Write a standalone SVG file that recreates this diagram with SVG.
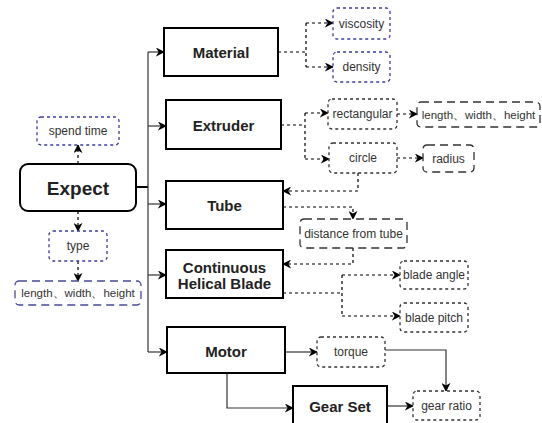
<svg xmlns="http://www.w3.org/2000/svg" width="542" height="423" viewBox="0 0 542 423">
<defs>
<style>
text{font-family:"Liberation Sans",Arial,sans-serif;fill:#222;text-anchor:middle;dominant-baseline:central}
.main{fill:#fff;stroke:#000;stroke-width:2}
.lbl{font-size:15px;font-weight:bold}
.sm{font-size:12px;fill:#333}
.lw{font-size:11.5px}
.dotb{fill:#fff;stroke:#3c3ca0;stroke-width:1.3;stroke-dasharray:3,3}
.dashb{fill:#fff;stroke:#4a4a9a;stroke-width:1.3;stroke-dasharray:8,5}
.dotg{fill:#fff;stroke:#333;stroke-width:1.3;stroke-dasharray:3,3}
.dashg{fill:#fff;stroke:#333;stroke-width:1.3;stroke-dasharray:8,5}
.c{fill:none;stroke:#000;stroke-width:1.2;stroke-dasharray:3,3}
.s{fill:none;stroke:#333;stroke-width:1.2}
</style>
<marker id="a" viewBox="0 0 10 10" refX="9" refY="5" markerWidth="9" markerHeight="9" markerUnits="userSpaceOnUse" orient="auto">
<path d="M0,0 L10,5 L0,10 L3,5 Z" fill="#000"/>
</marker>
</defs>
<g id="connectors">
<path class="s" d="M136,187 H148" style="stroke-width:2;stroke:#000"/>
<path class="s" d="M148,52 V352"/>
<path class="s" d="M148,52 H164" marker-end="url(#a)"/>
<path class="s" d="M148,126 H166" marker-end="url(#a)"/>
<path class="s" d="M148,204 H166" marker-end="url(#a)"/>
<path class="s" d="M148,275 H166" marker-end="url(#a)"/>
<path class="s" d="M148,352 H167" marker-end="url(#a)"/>
<path class="c" d="M78,164 V145" marker-end="url(#a)"/>
<path class="c" d="M78,211 V231" marker-end="url(#a)"/>
<path class="c" d="M78,261 V281" marker-end="url(#a)"/>
<path class="c" d="M278,52 H306 M306,23 V67"/>
<path class="c" d="M306,23 H333" marker-end="url(#a)"/>
<path class="c" d="M306,67 H333" marker-end="url(#a)"/>
<path class="c" d="M281,125 H305 M305,113 V159"/>
<path class="c" d="M305,113 H328" marker-end="url(#a)"/>
<path class="c" d="M305,159 H329" marker-end="url(#a)"/>
<path class="c" d="M397,114 H417" marker-end="url(#a)"/>
<path class="c" d="M397,158 H423" marker-end="url(#a)"/>
<path class="c" d="M358,173 V191 H283" marker-end="url(#a)"/>
<path class="c" d="M283,207 H353 V219" marker-end="url(#a)"/>
<path class="c" d="M353,248 V264 H283" marker-end="url(#a)"/>
<path class="c" d="M283,293 H342 M342,275 V316"/>
<path class="c" d="M342,275 H400" marker-end="url(#a)"/>
<path class="c" d="M342,316 H400" marker-end="url(#a)"/>
<path class="s" d="M285,352 H317" marker-end="url(#a)"/>
<path class="s" d="M385,350 H446 V391" marker-end="url(#a)"/>
<path class="s" d="M227,373 V408 H293" marker-end="url(#a)"/>
<path class="s" d="M387,406 H413" marker-end="url(#a)"/>
</g>
<g id="expect"><rect class="main" x="20" y="164" width="116" height="47" rx="8"/><text x="78" y="188" style="font-size:19px;font-weight:bold">Expect</text></g>
<g id="spend-time"><rect class="dotb" x="37" y="117" width="82" height="28" rx="4"/><text class="sm" x="78" y="131">spend time</text></g>
<g id="type"><rect class="dotb" x="49" y="231" width="58" height="30" rx="4"/><text class="sm" x="78" y="246">type</text></g>
<g id="lwh1"><rect class="dashb" x="15" y="281" width="126" height="24" rx="4"/><text class="sm lw" x="78" y="293">length、width、height</text></g>
<g id="material"><rect class="main" x="164" y="28" width="114" height="48"/><text class="lbl" x="221" y="52">Material</text></g>
<g id="viscosity"><rect class="dotb" x="333" y="8" width="57" height="31" rx="4"/><text class="sm" x="361.5" y="24">viscosity</text></g>
<g id="density"><rect class="dotb" x="333" y="52" width="57" height="30" rx="4"/><text class="sm" x="361.5" y="67">density</text></g>
<g id="extruder"><rect class="main" x="166" y="100" width="115" height="49"/><text class="lbl" x="223.5" y="125">Extruder</text></g>
<g id="rectangular"><rect class="dotg" x="328" y="99" width="69" height="30" rx="4"/><text class="sm" x="362.5" y="114">rectangular</text></g>
<g id="lwh2"><rect class="dashg" x="417" y="102" width="123" height="25" rx="4"/><text class="sm lw" x="478.5" y="114.5">length、width、height</text></g>
<g id="circle"><rect class="dotg" x="329" y="143" width="68" height="30" rx="4"/><text class="sm" x="363" y="158">circle</text></g>
<g id="radius"><rect class="dashg" x="423" y="145" width="51" height="27" rx="4"/><text class="sm" x="448.5" y="158.5">radius</text></g>
<g id="tube"><rect class="main" x="166" y="181" width="117" height="48"/><text class="lbl" x="224.5" y="205">Tube</text></g>
<g id="distance"><rect class="dashg" x="300" y="219" width="107" height="29" rx="4"/><text class="sm" x="353.5" y="233.5">distance from tube</text></g>
<g id="blade"><rect class="main" x="166" y="250" width="117" height="48"/><text class="lbl" x="224.5" y="267">Continuous</text><text class="lbl" x="224.5" y="283">Helical Blade</text></g>
<g id="blade-angle"><rect class="dotg" x="400" y="261" width="68" height="28" rx="4"/><text class="sm" x="434" y="275">blade angle</text></g>
<g id="blade-pitch"><rect class="dotg" x="400" y="303" width="68" height="29" rx="4"/><text class="sm" x="434" y="317.5">blade pitch</text></g>
<g id="motor"><rect class="main" x="167" y="327" width="118" height="46"/><text class="lbl" x="226" y="351">Motor</text></g>
<g id="torque"><rect class="dotg" x="317" y="337" width="68" height="30" rx="4"/><text class="sm" x="351" y="352">torque</text></g>
<g id="gear-set"><rect class="main" x="293" y="386" width="94" height="42"/><text class="lbl" x="340" y="406">Gear Set</text></g>
<g id="gear-ratio"><rect class="dotg" x="413" y="391" width="67" height="29" rx="4"/><text class="sm" x="446.5" y="405.5">gear ratio</text></g>
</svg>
